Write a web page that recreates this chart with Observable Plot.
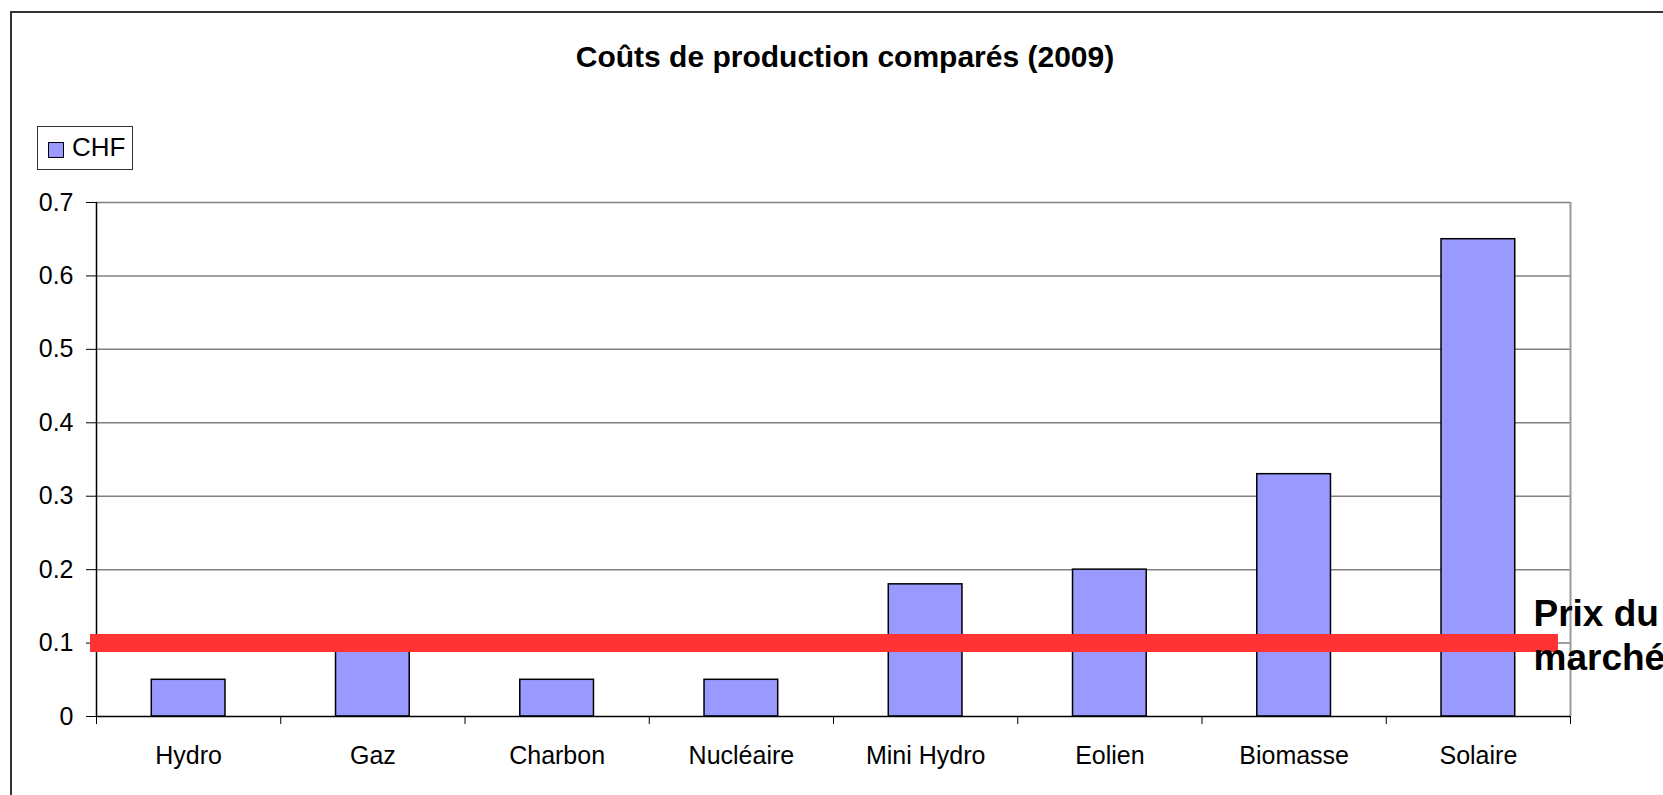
<!DOCTYPE html>
<html>
<head>
<meta charset="utf-8">
<script src="https://cdn.jsdelivr.net/npm/d3@7"></script>
<script src="https://cdn.jsdelivr.net/npm/@observablehq/plot@0.6"></script>
<style>
  html, body { margin: 0; padding: 0; background: #fff; }
  #wrap { position: relative; width: 1663px; height: 795px; overflow: hidden; font-family: "Liberation Sans", Arial, sans-serif; }
  #border { position: absolute; left: 10px; top: 11px; width: 1700px; height: 900px; border-left: 2px solid #333; border-top: 2px solid #333; box-sizing: border-box; }
  #title { position: absolute; left: 0; width: 1690px; top: 40px; text-align: center; font-weight: bold; font-size: 30px; color: #000; }
  #legend { position: absolute; left: 37px; top: 126px; width: 96px; height: 44px; border: 1.5px solid #333; box-sizing: border-box; }
  #legend .sw { position: absolute; left: 10px; top: 15px; width: 16px; height: 16px; background: #9999FF; border: 1.5px solid #000; box-sizing: border-box; }
  #legend .lb { position: absolute; left: 34px; top: 5px; font-size: 26px; line-height: 30px; color: #000; }
  #chart { position: absolute; left: 0; top: 0; }
</style>
</head>
<body>
<div id="wrap">
  <div id="chart"></div>
  <div id="border"></div>
  <div id="title"></div>
  <div id="legend"><div class="sw"></div><div class="lb"></div></div>
</div>
<script>
const titleText = "Coûts de production comparés (2009)";
const seriesName = "CHF";
const categories = ["Hydro", "Gaz", "Charbon", "Nucléaire", "Mini Hydro", "Eolien", "Biomasse", "Solaire"];
const values = [0.05, 0.09, 0.05, 0.05, 0.18, 0.20, 0.33, 0.65];
const yTicks = [0, 0.1, 0.2, 0.3, 0.4, 0.5, 0.6, 0.7];
const marketPrice = 0.1;
const marketLabel = "Prix du\nmarché";

document.getElementById("title").textContent = titleText;
document.querySelector("#legend .lb").textContent = seriesName;

const data = categories.map((c, i) => ({category: c, index: i, value: values[i]}));
const n = categories.length;
const centers = d3.range(n).map(i => i + 0.5);
const bounds = d3.range(n + 1);

const chart = Plot.plot({
  width: 1663,
  height: 795,
  marginLeft: 96,
  marginRight: 93,
  marginTop: 202,
  marginBottom: 79,
  style: {fontFamily: "'Liberation Sans', Arial, sans-serif", fontSize: "25px", color: "#000", background: "transparent", overflow: "visible"},
  x: {domain: [0, n]},
  y: {domain: [0, 0.7]},
  marks: [
    Plot.gridY(yTicks.filter(d => d > 0), {stroke: "#808080", strokeOpacity: 1, strokeWidth: 1.5}),
    Plot.ruleX([n], {stroke: "#999", strokeWidth: 2}),
    Plot.rectY(data, {x1: d => d.index + 0.3, x2: d => d.index + 0.7, y1: 0, y2: "value", fill: "#9999FF", stroke: "#000", strokeWidth: 1.5}),
    Plot.ruleX([0], {stroke: "#000", strokeWidth: 1.5}),
    Plot.ruleY([0], {stroke: "#000", strokeWidth: 1.5}),
    Plot.axisY({ticks: yTicks, tickSize: 10, tickPadding: 13, tickFormat: d => d === 0 ? "0" : d.toFixed(1), label: null, stroke: "#000", fontSize: 25}),
    Plot.axisX({ticks: bounds, tickSize: 8, tickFormat: () => "", label: null, stroke: "#000"}),
    Plot.axisX({ticks: centers, tickSize: 0, tickPadding: 30, tickFormat: d => categories[Math.floor(d)], label: null, fontSize: 25}),
    Plot.ruleY([marketPrice], {stroke: "#FF3333", strokeWidth: 18, insetLeft: -6, insetRight: 12}),
    Plot.text([marketLabel], {x: n, y: marketPrice, text: d => d, dx: -37, dy: -9, textAnchor: "start", lineAnchor: "middle", lineHeight: 1.2, fontWeight: "bold", fontSize: 37, fill: "#000"})
  ]
});
document.getElementById("chart").appendChild(chart);
</script>
</body>
</html>
